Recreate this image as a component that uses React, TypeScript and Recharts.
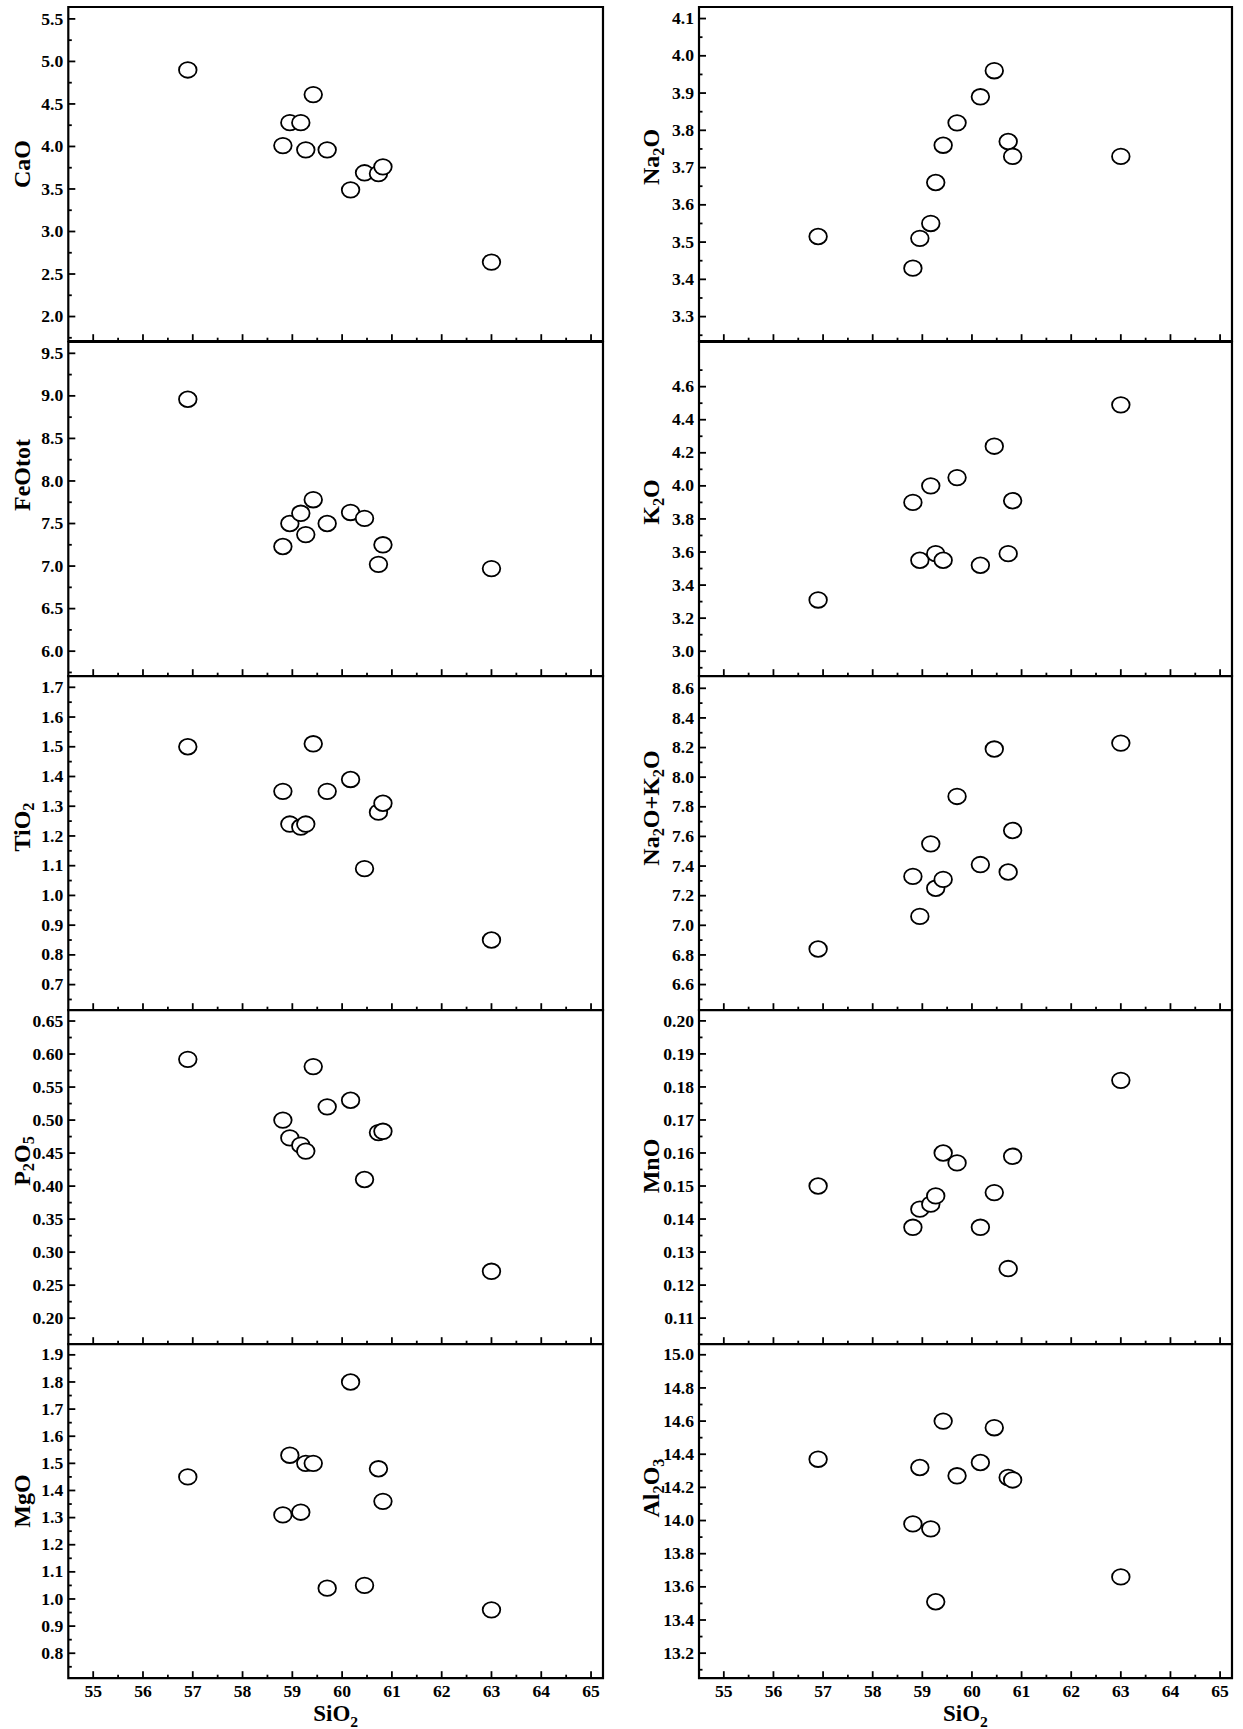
import { ScatterChart, Scatter, XAxis, YAxis, ReferenceArea } from "recharts";

// SiO2 of each sample (x for every panel)
const sio2 = [56.9, 58.81, 58.95, 59.17, 59.27, 59.42, 59.7, 60.17, 60.45, 60.73, 60.82, 63.0];

const cao = [4.9, 4.01, 4.28, 4.28, 3.96, 4.61, 3.96, 3.49, 3.69, 3.68, 3.76, 2.64];
const na2o = [3.515, 3.43, 3.51, 3.55, 3.66, 3.76, 3.82, 3.89, 3.96, 3.77, 3.73, 3.73];
const feot = [8.96, 7.23, 7.5, 7.62, 7.37, 7.78, 7.5, 7.63, 7.56, 7.02, 7.25, 6.97];
const k2o = [3.31, 3.9, 3.55, 4.0, 3.59, 3.55, 4.05, 3.52, 4.24, 3.59, 3.91, 4.49];
const tio2 = [1.5, 1.35, 1.24, 1.23, 1.24, 1.51, 1.35, 1.39, 1.09, 1.28, 1.31, 0.85];
const alk = [6.84, 7.33, 7.06, 7.55, 7.25, 7.31, 7.87, 7.41, 8.19, 7.36, 7.64, 8.23];
const p2o5 = [0.592, 0.5, 0.473, 0.462, 0.453, 0.581, 0.52, 0.53, 0.41, 0.481, 0.483, 0.271];
const mno = [0.15, 0.1375, 0.143, 0.1445, 0.147, 0.16, 0.157, 0.1375, 0.148, 0.125, 0.159, 0.182];
const mgo = [1.45, 1.31, 1.53, 1.32, 1.5, 1.5, 1.04, 1.8, 1.05, 1.48, 1.36, 0.96];
const al2o3 = [14.37, 13.98, 14.32, 13.95, 13.51, 14.6, 14.27, 14.35, 14.56, 14.26, 14.245, 13.66];

// tick labels
const sio2Ticks = [55, 56, 57, 58, 59, 60, 61, 62, 63, 64, 65];
const caoTicks = [2.0, 2.5, 3.0, 3.5, 4.0, 4.5, 5.0, 5.5];
const na2oTicks = [3.3, 3.4, 3.5, 3.6, 3.7, 3.8, 3.9, 4.0, 4.1];
const feotTicks = [6.0, 6.5, 7.0, 7.5, 8.0, 8.5, 9.0, 9.5];
const k2oTicks = [3.0, 3.2, 3.4, 3.6, 3.8, 4.0, 4.2, 4.4, 4.6];
const tio2Ticks = [0.7, 0.8, 0.9, 1.0, 1.1, 1.2, 1.3, 1.4, 1.5, 1.6, 1.7];
const alkTicks = [6.6, 6.8, 7.0, 7.2, 7.4, 7.6, 7.8, 8.0, 8.2, 8.4, 8.6];
const p2o5Ticks = [0.2, 0.25, 0.3, 0.35, 0.4, 0.45, 0.5, 0.55, 0.6, 0.65];
const mnoTicks = [0.11, 0.12, 0.13, 0.14, 0.15, 0.16, 0.17, 0.18, 0.19, 0.2];
const mgoTicks = [0.8, 0.9, 1.0, 1.1, 1.2, 1.3, 1.4, 1.5, 1.6, 1.7, 1.8, 1.9];
const al2o3Ticks = [13.2, 13.4, 13.6, 13.8, 14.0, 14.2, 14.4, 14.6, 14.8, 15.0];

const panels = [
  { title: "CaO", values: cao, ticks: caoTicks, domain: [1.71, 5.64], dec: 1, row: 0, col: 0, titleY: 157 },
  { title: "Na2O", values: na2o, ticks: na2oTicks, domain: [3.234, 4.131], dec: 1, row: 0, col: 1, titleY: 150 },
  { title: "FeOtot", values: feot, ticks: feotTicks, domain: [5.706, 9.633], dec: 1, row: 1, col: 0, titleY: 133 },
  { title: "K2O", values: k2o, ticks: k2oTicks, domain: [2.849, 4.87], dec: 1, row: 1, col: 1, titleY: 160 },
  { title: "TiO2", values: tio2, ticks: tio2Ticks, domain: [0.614, 1.738], dec: 1, row: 2, col: 0, titleY: 151 },
  { title: "Na2O+K2O", values: alk, ticks: alkTicks, domain: [6.427, 8.683], dec: 1, row: 2, col: 1, titleY: 132 },
  { title: "P2O5", values: p2o5, ticks: p2o5Ticks, domain: [0.1606, 0.6667], dec: 2, row: 3, col: 0, titleY: 151 },
  { title: "MnO", values: mno, ticks: mnoTicks, domain: [0.1021, 0.2033], dec: 2, row: 3, col: 1, titleY: 156 },
  { title: "MgO", values: mgo, ticks: mgoTicks, domain: [0.708, 1.94], dec: 1, row: 4, col: 0, titleY: 157 },
  { title: "Al2O3", values: al2o3, ticks: al2o3Ticks, domain: [13.049, 15.065], dec: 1, row: 4, col: 1, titleY: 144 },
];

const FONT = "'Liberation Serif', 'Times New Roman', serif";
const X_DOMAIN: [number, number] = [54.5, 65.24];
const PLOT_H = 334.2;
const TOP0 = 7.3;
const MT = 10;
const XAXIS_H = 60;
const COLS = [
  { left: 0, axisW: 68.3, plotW: 534.7, right: 12, titleX: 21.7 },
  { left: 620, axisW: 79, plotW: 533, right: 11, titleX: 31 },
];

function withMinors(major: number[], domain: number[]) {
  const step = major[1] - major[0];
  const out = [...major];
  for (let i = -1; i < major.length; i++) {
    const v = i < 0 ? major[0] - step / 2 : major[i] + step / 2;
    if (v > domain[0] && v < domain[1]) out.push(+v.toFixed(6));
  }
  return out.sort((a, b) => a - b);
}

const isMajor = (v: number, major: number[]) =>
  major.some((m) => Math.abs(m - v) < 1e-6);

// chemical formula with subscript digits
function formula(text: string, size: number) {
  const parts = text.match(/\d+|\D+/g) || [];
  const off = size * 0.28;
  let down = false;
  return parts.map((p, i) => {
    if (/^\d+$/.test(p)) {
      const el = (
        <tspan key={i} fontSize={size * 0.68} dy={down ? 0 : off}>
          {p}
        </tspan>
      );
      down = true;
      return el;
    }
    const el = (
      <tspan key={i} fontSize={size} dy={down ? -off : 0}>
        {p}
      </tspan>
    );
    down = false;
    return el;
  });
}

const XTick = (props: any) => {
  const { x, y, payload, showLabel } = props;
  const v = payload.value;
  const major = isMajor(v, sio2Ticks);
  return (
    <g>
      <line x1={x} x2={x} y1={y} y2={y - (major ? 7 : 3.5)} stroke="#000" strokeWidth={1.8} />
      {showLabel && major && (
        <text
          transform={`translate(${x},${y + 18.5}) scale(1.1,1)`}
          textAnchor="middle"
          fontFamily={FONT}
          fontWeight="bold"
          fontSize={16}
          fill="#000"
        >
          {v}
        </text>
      )}
    </g>
  );
};

const YTick = (props: any) => {
  const { x, y, payload, majors, dec } = props;
  const v = payload.value;
  const major = isMajor(v, majors);
  return (
    <g>
      <line x1={x} x2={x + (major ? 7 : 3.5)} y1={y} y2={y} stroke="#000" strokeWidth={1.8} />
      {major && (
        <text
          transform={`translate(${x - 5},${y}) scale(1.1,1)`}
          textAnchor="end"
          dy="0.35em"
          fontFamily={FONT}
          fontWeight="bold"
          fontSize={16}
          fill="#000"
        >
          {v.toFixed(dec)}
        </text>
      )}
    </g>
  );
};

const YTitle = (props: any) => {
  const { viewBox, text, tx, ty } = props;
  const x = viewBox.x + tx;
  const y = viewBox.y + ty;
  return (
    <text
      transform={`translate(${x},${y}) rotate(-90)`}
      textAnchor="middle"
      dominantBaseline="central"
      fontFamily={FONT}
      fontWeight="bold"
      fill="#000"
    >
      {formula(text, 24)}
    </text>
  );
};

const XTitle = (props: any) => {
  const { viewBox } = props;
  return (
    <text
      x={viewBox.x + viewBox.width / 2}
      y={viewBox.y + 42.5}
      textAnchor="middle"
      fontFamily={FONT}
      fontWeight="bold"
      fill="#000"
    >
      {formula("SiO2", 23)}
    </text>
  );
};

const Ring = (props: any) => (
  <ellipse cx={props.cx} cy={props.cy} rx={8.8} ry={7.8} fill="#fff" stroke="#000" strokeWidth={1.8} />
);

const xTicksAll = withMinors(sio2Ticks, X_DOMAIN);

function Panel({ p }: { p: (typeof panels)[number] }) {
  const col = COLS[p.col];
  const data = sio2.map((x, i) => ({ x, y: p.values[i] }));
  const yTicksAll = withMinors(p.ticks, p.domain);
  const bottom = p.row === 4;
  return (
    <div style={{ position: "absolute", left: col.left, top: TOP0 + p.row * PLOT_H - MT }}>
      <ScatterChart
        width={col.axisW + col.plotW + col.right}
        height={MT + PLOT_H + XAXIS_H}
        margin={{ top: MT, right: col.right, bottom: 0, left: 0 }}
      >
        <XAxis
          dataKey="x"
          type="number"
          domain={X_DOMAIN}
          allowDataOverflow
          ticks={xTicksAll}
          interval={0}
          height={XAXIS_H}
          axisLine={false}
          tickLine={false}
          tickSize={0}
          tickMargin={0}
          tick={(tp: any) => <XTick {...tp} showLabel={bottom} />}
          label={bottom ? { content: (lp: any) => <XTitle {...lp} /> } : undefined}
        />
        <YAxis
          dataKey="y"
          type="number"
          domain={p.domain}
          allowDataOverflow
          ticks={yTicksAll}
          interval={0}
          width={col.axisW}
          axisLine={false}
          tickLine={false}
          tickSize={0}
          tickMargin={0}
          tick={(tp: any) => <YTick {...tp} majors={p.ticks} dec={p.dec} />}
          label={{
            content: (lp: any) => <YTitle {...lp} text={p.title} tx={col.titleX} ty={p.titleY} />,
          }}
        />
        <ReferenceArea
          x1={X_DOMAIN[0]}
          x2={X_DOMAIN[1]}
          y1={p.domain[0]}
          y2={p.domain[1]}
          fill="none"
          stroke="#000"
          strokeWidth={2.2}
        />
        <Scatter data={data} shape={<Ring />} isAnimationActive={false} />
      </ScatterChart>
    </div>
  );
}

export default function App() {
  return (
    <div
      style={{
        position: "absolute",
        left: 0,
        top: 0,
        width: 1243,
        height: 1729,
        background: "#fff",
      }}
    >
      {panels.map((p) => (
        <Panel key={p.title} p={p} />
      ))}
    </div>
  );
}
